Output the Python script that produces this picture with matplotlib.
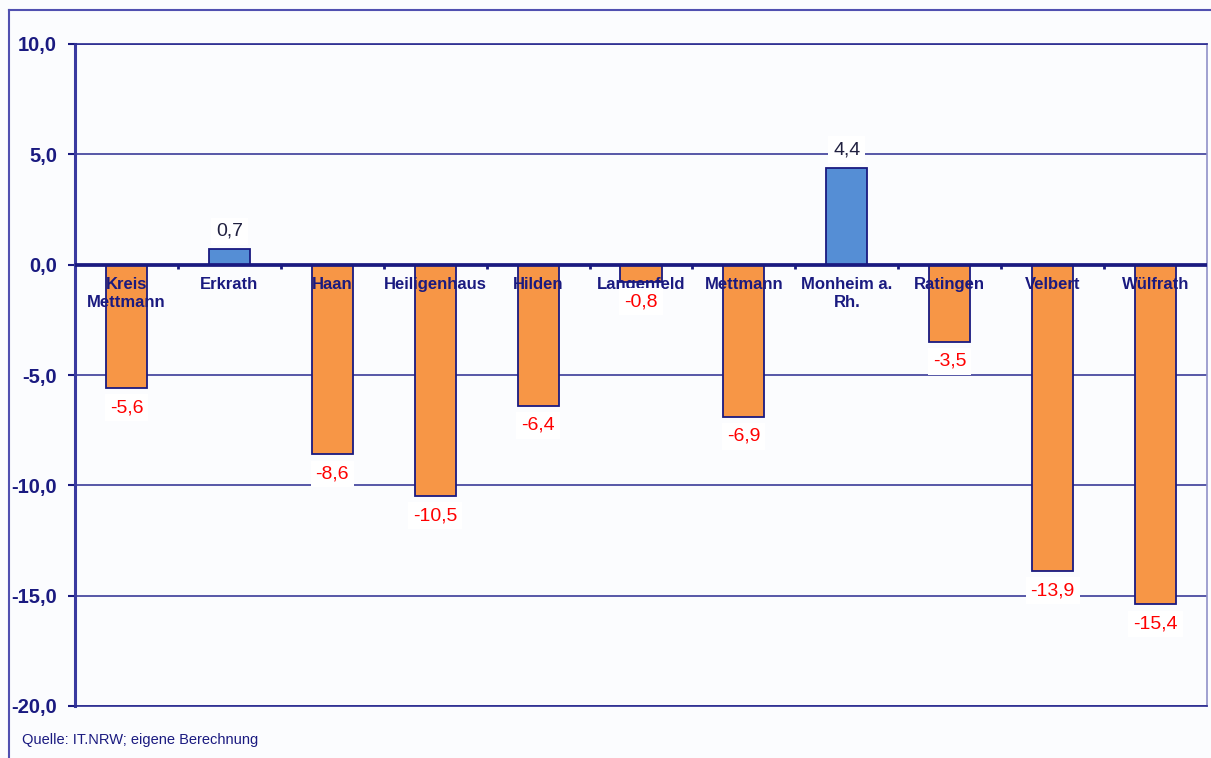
import matplotlib.pyplot as plt
from matplotlib.lines import Line2D

# Bevoelkerungsentwicklung, Kreis Mettmann und kreisangehoerige Staedte (in %)
staedte = ['Kreis\nMettmann', 'Erkrath', 'Haan', 'Heiligenhaus', 'Hilden', 'Langenfeld',
           'Mettmann', 'Monheim a.\nRh.', 'Ratingen', 'Velbert', 'Wülfrath']
werte = [-5.6, 0.7, -8.6, -10.5, -6.4, -0.8, -6.9, 4.4, -3.5, -13.9, -15.4]
y_ticks = [10, 5, 0, -5, -10, -15, -20]
quelle = 'Quelle: IT.NRW; eigene Berechnung'

navy = '#1a1a80'
orange = '#f79646'
blau = '#558ed5'
font = 'Liberation Sans'

W, H = 1211, 758
fig = plt.figure(figsize=(W / 100, H / 100), dpi=100, facecolor='#fbfcfe')
ax = fig.add_axes([75 / W, 1 - 706 / H, (1207 - 75) / W, (706 - 44) / H])
ax.set_facecolor('#fbfcfe')

# aeusserer Rahmen
fig.add_artist(Line2D([9 / W, 1], [1 - 10 / H, 1 - 10 / H], transform=fig.transFigure,
                      color='#5050b0', lw=1.5))
fig.add_artist(Line2D([9 / W, 9 / W], [1 - 10 / H, 0], transform=fig.transFigure,
                      color='#5050b0', lw=1.5))

x = list(range(len(staedte)))
farben = [blau if v > 0 else orange for v in werte]

for t in y_ticks:
    ax.axhline(t, color='#2a2a90', lw=1.1, zorder=1)

ax.bar(x, werte, width=0.4, color=farben, edgecolor=navy, linewidth=1.3, zorder=2)
ax.axhline(0, color=navy, lw=2.7, zorder=3)

# kleine Striche zwischen den Kategorien an der Nulllinie
for b in [i + 0.5 for i in x[:-1]]:
    ax.plot([b, b], [0, -0.2], color=navy, lw=2, zorder=3, solid_capstyle='butt')

for i, (name, v) in enumerate(zip(staedte, werte)):
    ax.annotate(name, (i, 0), xytext=(0, -9), textcoords='offset points',
                ha='center', va='top', fontsize=12, fontweight='bold', color=navy,
                family=font, linespacing=1.25, zorder=5)
    txt = f'{v:.1f}'.replace('.', ',')
    if v < 0:
        ax.annotate(txt, (i, v), xytext=(0, -14), textcoords='offset points',
                    ha='center', va='center', fontsize=14, color='#ff0000', family=font,
                    bbox=dict(boxstyle='square,pad=0.25', fc='white', ec='none'), zorder=6)
    else:
        ax.annotate(txt, (i, v), xytext=(0, 13), textcoords='offset points',
                    ha='center', va='center', fontsize=14, color='#202040', family=font,
                    bbox=dict(boxstyle='square,pad=0.25', fc='white', ec='none'), zorder=6)

ax.set_xlim(-0.5, len(staedte) - 0.5)
ax.set_ylim(-20, 10)
ax.set_yticks(y_ticks)
ax.set_yticklabels([f'{t:.1f}'.replace('.', ',') for t in y_ticks],
                   fontsize=14.5, fontweight='bold', color=navy, family=font)
ax.tick_params(axis='y', length=5, width=1.5, color=navy, pad=8)
ax.set_xticks([])

for s in ['top', 'bottom']:
    ax.spines[s].set_color('#2a2a90')
    ax.spines[s].set_linewidth(1.2)
ax.spines['left'].set_color('#3a3aa0')
ax.spines['left'].set_linewidth(2.2)
ax.spines['right'].set_color('#9090c8')
ax.spines['right'].set_linewidth(1.2)

fig.text(22 / W, 1 - 740 / H, quelle, fontsize=10.5, color=navy, family=font,
         ha='left', va='center')

fig.savefig('out.png', dpi=100, facecolor=fig.get_facecolor())
